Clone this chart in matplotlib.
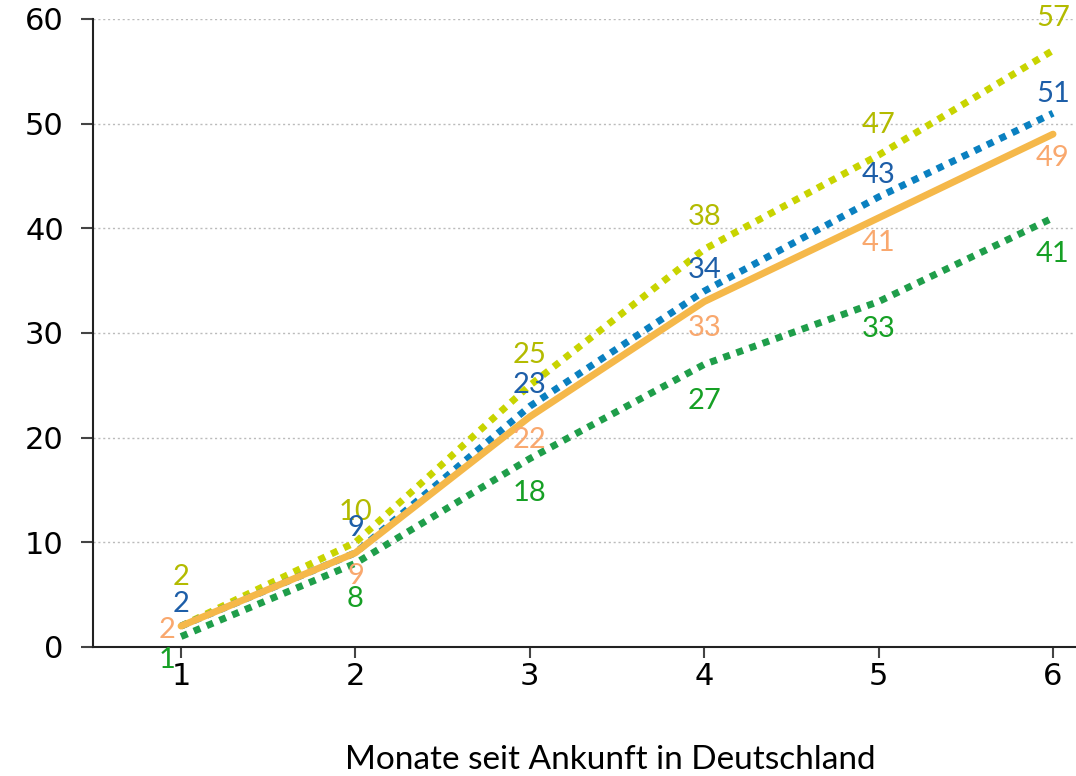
import numpy as np
import matplotlib
matplotlib.use("Agg")
import matplotlib.pyplot as plt

# data
months = [1, 2, 3, 4, 5, 6]
yellow = [2, 10, 25, 38, 47, 57]
blue = [2, 9, 23, 34, 43, 51]
orange = [2, 9, 22, 33, 41, 49]
green = [1, 8, 18, 27, 33, 41]

xlabel = "Monate seit Ankunft in Deutschland"

fig = plt.figure(figsize=(10.76, 7.76), dpi=100)
ax = fig.add_axes([93/1076, 1-647/776, (1075-93)/1076, (647-19)/776])

ax.set_xlim(0.495, 6.126)
ax.set_ylim(0, 60)

# lines (order: green, orange, blue, yellow on top)
ax.plot(months, green, color="#1f9e4a", lw=5, linestyle=(0, (1, 1)), dash_capstyle="butt", zorder=3)
ax.plot(months, blue, color="#0a80c0", lw=5, linestyle=(0, (1, 1)), dash_capstyle="butt", zorder=4)
ax.plot(months, yellow, color="#c8d400", lw=5, linestyle=(0, (1, 1)), dash_capstyle="butt", zorder=3.5)
ax.plot(months, orange, color="#f5b84a", lw=5, solid_capstyle="round", zorder=5)

lab_font = "Lato"
# value labels, offsets in points (dx, dy)
y_off = [(0, 35), (0, 22), (0, 22), (0, 23), (0, 22), (0, 23)]
b_off = [(0, 16), (0, 18), (0, 15), (0, 15), (0, 16), (0, 14)]
o_off = [(-10, -3), (0, -17), (0, -17), (0, -19), (0, -18), (0, -17)]
g_off = [(-10, -17), (0, -26), (0, -25), (0, -26), (0, -20), (0, -26)]

for vals, offs, col in [(yellow, y_off, "#b3bb00"), (blue, b_off, "#1d5ea8"),
                        (orange, o_off, "#f9a86e"), (green, g_off, "#16a025")]:
    for x, v, (dx, dy) in zip(months, vals, offs):
        ax.annotate(str(v), (x, v), xytext=(dx, dy), textcoords="offset points",
                    ha="center", va="center", color=col, fontsize=21,
                    family=lab_font, zorder=6)

# axes styling
for s in ["top", "right"]:
    ax.spines[s].set_visible(False)
ax.spines["left"].set_color("#222222")
ax.spines["bottom"].set_color("#222222")
ax.spines["left"].set_linewidth(1.5)
ax.spines["bottom"].set_linewidth(1.5)

ax.set_yticks([0, 10, 20, 30, 40, 50, 60])
ax.set_xticks(months)
ax.tick_params(axis="y", direction="out", length=9, width=1.5, color="#444444", labelsize=22, pad=12)
ax.tick_params(axis="x", direction="out", length=8, width=1.5, color="#444444", labelsize=22, pad=3)

ax.yaxis.grid(True, linestyle=(0, (1.5, 2)), color="#bbbbbb", lw=1)
ax.set_axisbelow(True)

fig.text(610/1076, 1-760/776, xlabel, ha="center", va="center", fontsize=24, family=lab_font)

fig.savefig("out.png", dpi=100)
